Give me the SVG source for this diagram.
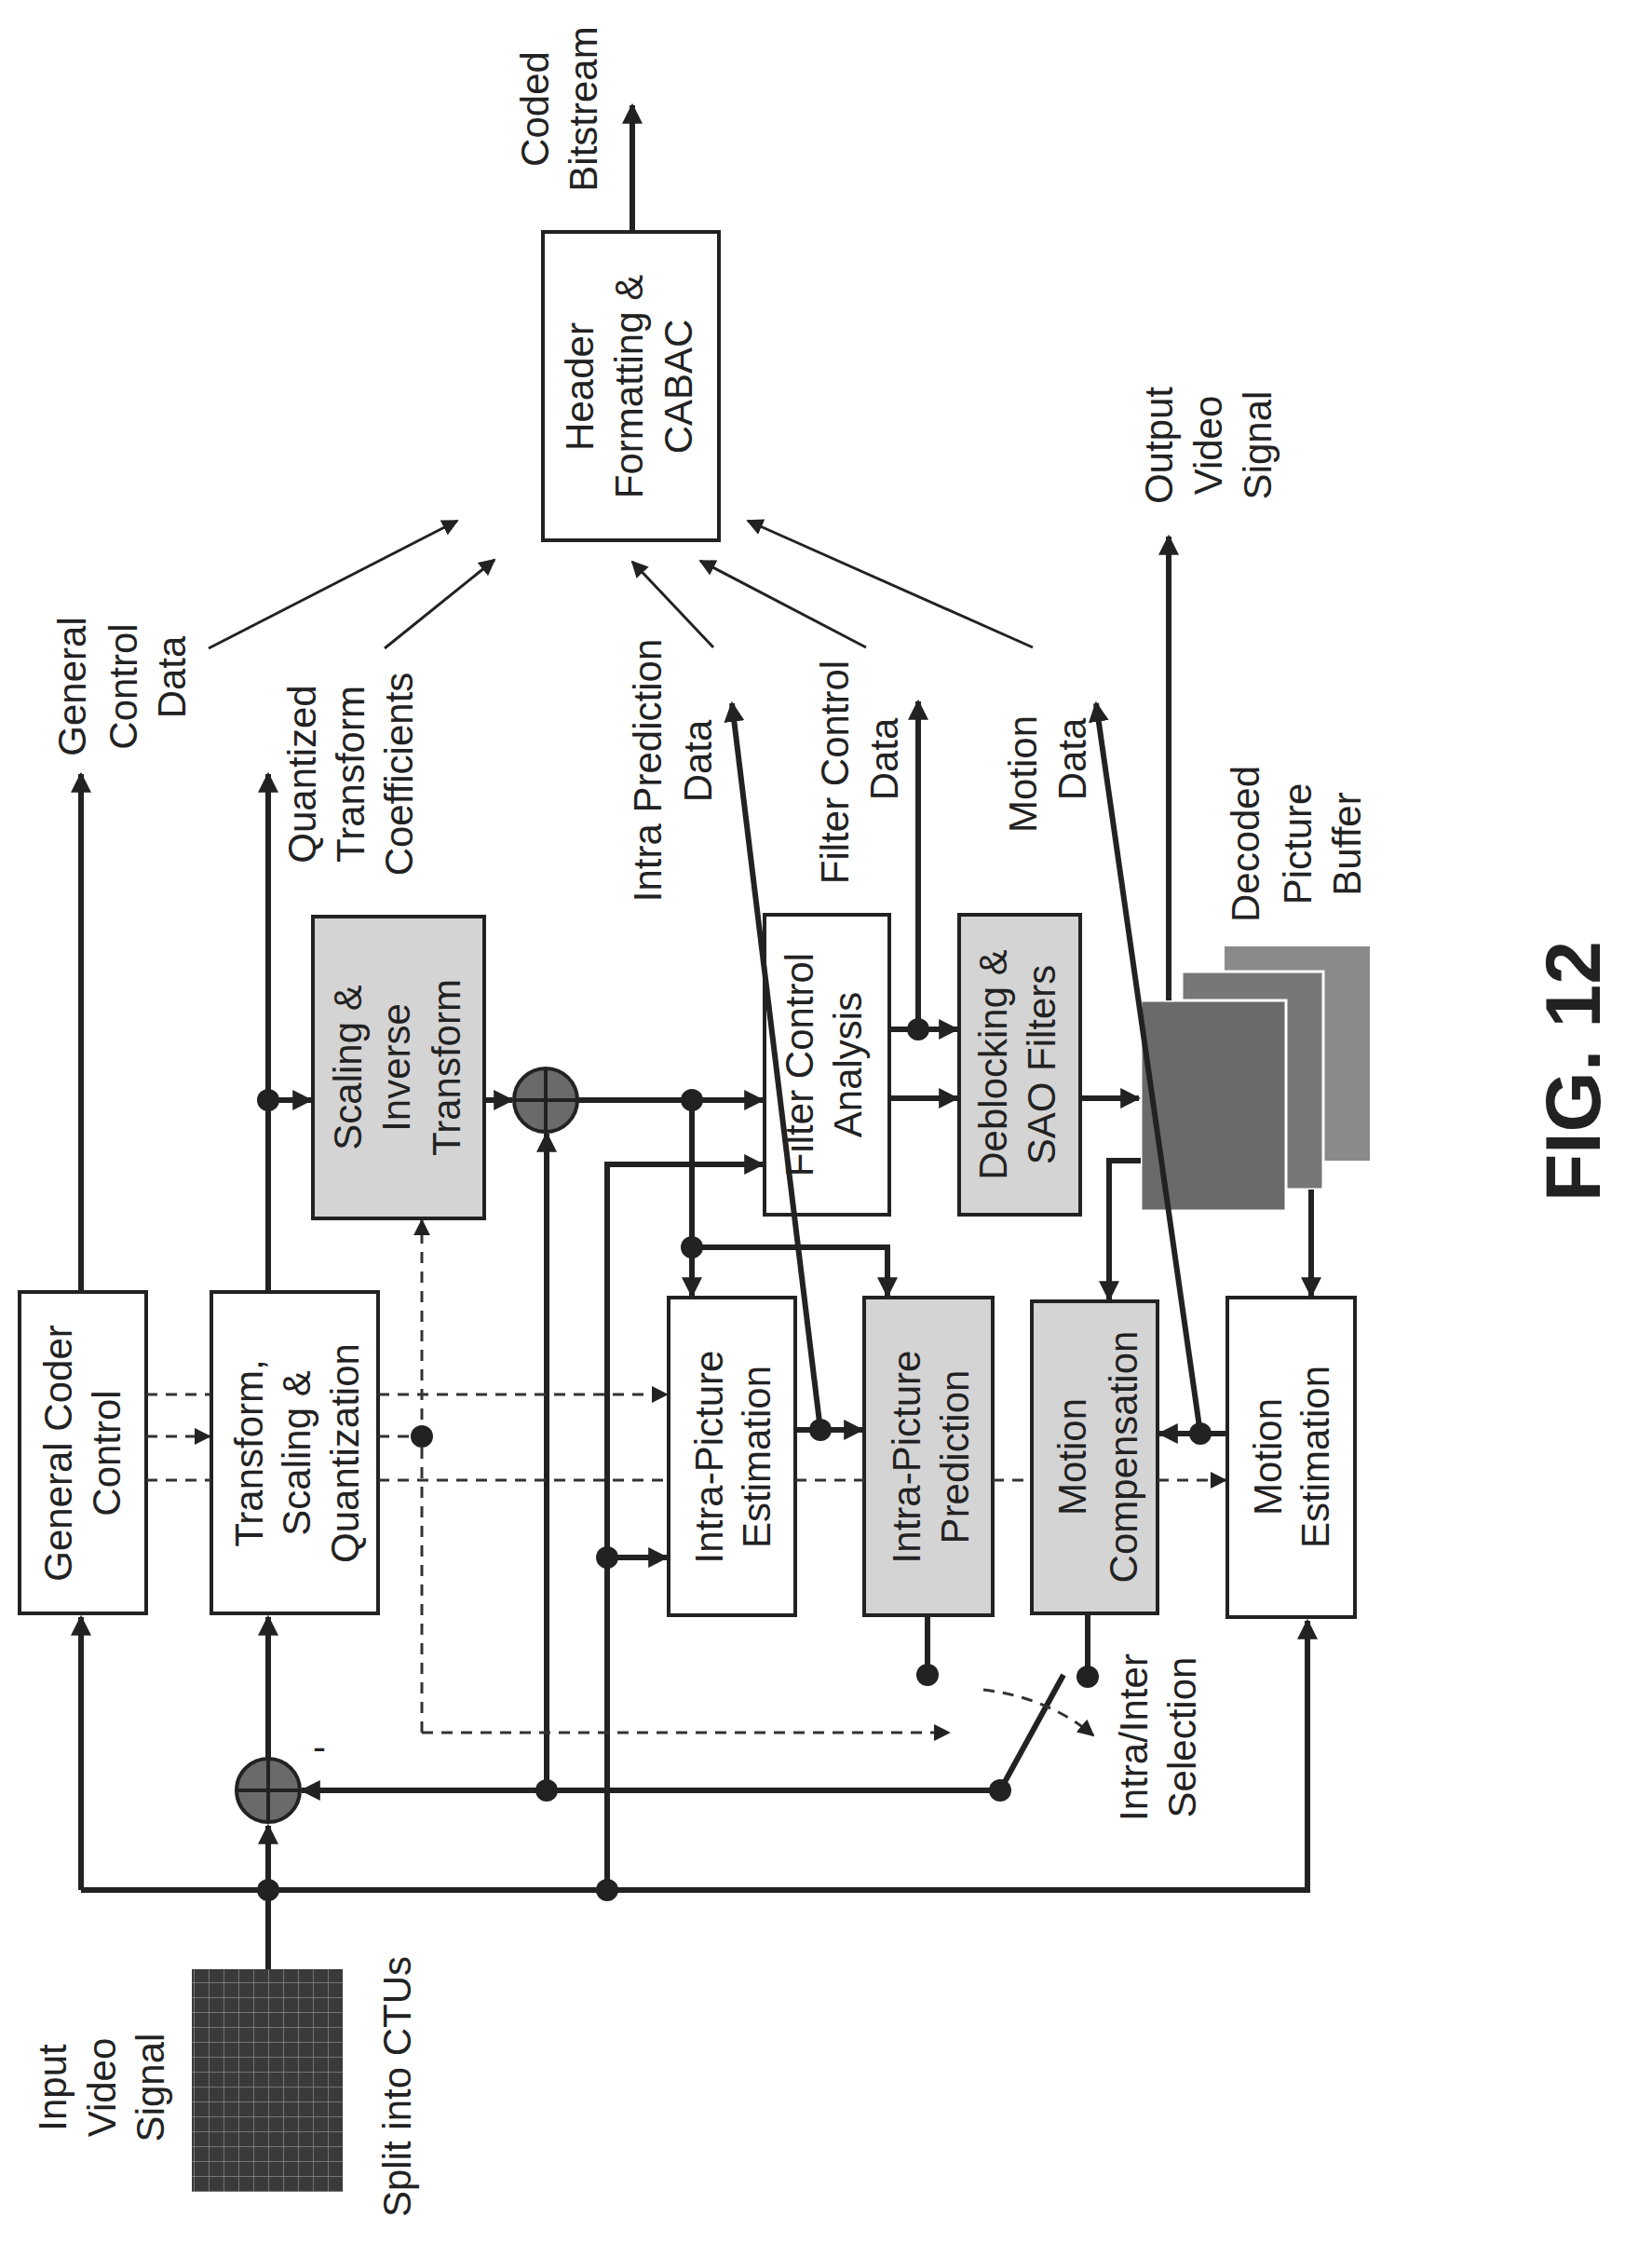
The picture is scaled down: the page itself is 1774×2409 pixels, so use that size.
<svg xmlns="http://www.w3.org/2000/svg" width="1774" height="2409" viewBox="0 0 1774 2409">
<style>
.box{fill:#fff;stroke:#222;stroke-width:4}
.gbox{fill:#d4d4d4;stroke:#222;stroke-width:4}
.t{font-family:"Liberation Sans",Arial,sans-serif;font-size:42px;fill:#222;text-anchor:middle}
.w{fill:none;stroke:#222;stroke-width:6}
.n{fill:none;stroke:#222;stroke-width:3}
.d{fill:none;stroke:#333;stroke-width:3;stroke-dasharray:12 9}
.dot{fill:#222}
</style>
<defs>
<marker id="a" viewBox="0 0 10 10" refX="9" refY="5" markerWidth="5" markerHeight="5" orient="auto" markerUnits="userSpaceOnUse"><path d="M0,0 L10,5 L0,10 z" fill="#222"/></marker>
<marker id="A" viewBox="0 0 10 10" refX="9" refY="5" markerWidth="22" markerHeight="22" orient="auto" markerUnits="userSpaceOnUse"><path d="M0,0 L10,5 L0,10 z" fill="#222"/></marker>
<marker id="B" viewBox="0 0 10 10" refX="9" refY="5" markerWidth="18" markerHeight="18" orient="auto" markerUnits="userSpaceOnUse"><path d="M0,0 L10,5 L0,10 z" fill="#222"/></marker>
<pattern id="grid" width="16" height="16" patternUnits="userSpaceOnUse"><rect width="16" height="16" fill="#3a3a3a"/><path d="M0,0 H16 M0,0 V16" stroke="#888" stroke-width="1.5"/></pattern>
</defs>
<rect width="1774" height="2409" fill="#fff"/>

<g id="input"><rect x="206" y="2114" width="162" height="239" fill="url(#grid)"/>
<text class="t" transform="translate(71,2241) rotate(-90)">Input</text>
<text class="t" transform="translate(124,2241) rotate(-90)">Video</text>
<text class="t" transform="translate(176,2241) rotate(-90)">Signal</text>
<text class="t" transform="translate(441,2240) rotate(-90)">Split into CTUs</text></g>

<g id="gcc"><rect class="box" x="21" y="1387" width="136" height="345"/>
<text class="t" transform="translate(77,1560) rotate(-90)">General Coder</text>
<text class="t" transform="translate(129,1560) rotate(-90)">Control</text></g>

<g id="tsq"><rect class="box" x="227" y="1387" width="179" height="345"/>
<text class="t" transform="translate(282,1560) rotate(-90)">Transform,</text>
<text class="t" transform="translate(333,1560) rotate(-90)">Scaling &amp;</text>
<text class="t" transform="translate(385,1560) rotate(-90)">Quantization</text></g>

<g id="sit"><rect class="gbox" x="336" y="984" width="184" height="324"/>
<text class="t" transform="translate(388,1146) rotate(-90)">Scaling &amp;</text>
<text class="t" transform="translate(440,1146) rotate(-90)">Inverse</text>
<text class="t" transform="translate(494,1146) rotate(-90)">Transform</text></g>

<g id="ipe"><rect class="box" x="718" y="1393" width="136" height="341"/>
<text class="t" transform="translate(776,1564) rotate(-90)">Intra-Picture</text>
<text class="t" transform="translate(827,1564) rotate(-90)">Estimation</text></g>

<g id="ipp"><rect class="gbox" x="928" y="1393" width="138" height="341"/>
<text class="t" transform="translate(988,1564) rotate(-90)">Intra-Picture</text>
<text class="t" transform="translate(1040,1564) rotate(-90)">Prediction</text></g>

<g id="mc"><rect class="gbox" x="1108" y="1397" width="135" height="335"/>
<text class="t" transform="translate(1166,1564) rotate(-90)">Motion</text>
<text class="t" transform="translate(1221,1564) rotate(-90)">Compensation</text></g>

<g id="me"><rect class="box" x="1318" y="1393" width="137" height="343"/>
<text class="t" transform="translate(1376,1564) rotate(-90)">Motion</text>
<text class="t" transform="translate(1427,1564) rotate(-90)">Estimation</text></g>

<g id="fca"><rect class="box" x="821" y="982" width="134" height="322"/>
<text class="t" transform="translate(873,1143) rotate(-90)">Filter Control</text>
<text class="t" transform="translate(925,1143) rotate(-90)">Analysis</text></g>

<g id="dbk"><rect class="gbox" x="1030" y="982" width="130" height="322"/>
<text class="t" transform="translate(1081,1143) rotate(-90)">Deblocking &amp;</text>
<text class="t" transform="translate(1133,1143) rotate(-90)">SAO Filters</text></g>

<g id="hdr"><rect class="box" x="583" y="249" width="189" height="331"/>
<text class="t" transform="translate(637,415) rotate(-90)">Header</text>
<text class="t" transform="translate(690,415) rotate(-90)">Formatting &amp;</text>
<text class="t" transform="translate(743,415) rotate(-90)">CABAC</text></g>

<g id="dpb"><rect x="1315" y="1016" width="156" height="230" fill="#8a8a8a"/>
<rect x="1269" y="1043" width="152" height="234" fill="#777" stroke="#fff" stroke-width="3"/>
<rect x="1225" y="1074" width="156" height="226" fill="#6a6a6a" stroke="#fff" stroke-width="3"/>
<text class="t" transform="translate(1352,906) rotate(-90)">Decoded</text>
<text class="t" transform="translate(1408,906) rotate(-90)">Picture</text>
<text class="t" transform="translate(1461,906) rotate(-90)">Buffer</text></g>

<g id="labels">
<text class="t" transform="translate(92,737) rotate(-90)">General</text>
<text class="t" transform="translate(147,737) rotate(-90)">Control</text>
<text class="t" transform="translate(199,727) rotate(-90)">Data</text>
<text class="t" transform="translate(339,831) rotate(-90)">Quantized</text>
<text class="t" transform="translate(391,831) rotate(-90)">Transform</text>
<text class="t" transform="translate(443,831) rotate(-90)">Coefficients</text>
<text class="t" transform="translate(710,827) rotate(-90)">Intra Prediction</text>
<text class="t" transform="translate(764,817) rotate(-90)">Data</text>
<text class="t" transform="translate(911,829) rotate(-90)">Filter Control</text>
<text class="t" transform="translate(964,815) rotate(-90)">Data</text>
<text class="t" transform="translate(1113,831) rotate(-90)">Motion</text>
<text class="t" transform="translate(1166,815) rotate(-90)">Data</text>
<text class="t" transform="translate(1259,478) rotate(-90)">Output</text>
<text class="t" transform="translate(1312,478) rotate(-90)">Video</text>
<text class="t" transform="translate(1365,478) rotate(-90)">Signal</text>
<text class="t" transform="translate(589,117) rotate(-90)">Coded</text>
<text class="t" transform="translate(641,117) rotate(-90)">Bitstream</text>
<text class="t" transform="translate(1232,1865) rotate(-90)">Intra/Inter</text>
<text class="t" transform="translate(1284,1865) rotate(-90)">Selection</text>
<text class="t" x="343" y="1890">-</text>
<text class="t" style="font-size:84px;font-weight:bold" transform="translate(1718,1150) rotate(-90)">FIG. 12</text>
</g>

<g id="sums">
<circle cx="288" cy="1922" r="34" fill="#6a6a6a" stroke="#222" stroke-width="4"/>
<path d="M254,1922 H322 M288,1888 V1956" stroke="#222" stroke-width="4"/>
<circle cx="586" cy="1181" r="34" fill="#6a6a6a" stroke="#222" stroke-width="4"/>
<path d="M552,1181 H620 M586,1147 V1215" stroke="#222" stroke-width="4"/>
</g>

<g id="connectors">
<path class="w" d="M288,2114 V1960" marker-end="url(#A)"/>
<path class="w" d="M87,2029 H1404 V1740" marker-end="url(#A)"/>
<path class="w" d="M87,2029 V1736" marker-end="url(#A)"/>
<path class="w" d="M652,2029 V1250 H819" marker-end="url(#A)"/>
<path class="w" d="M652,1672 H716" marker-end="url(#A)"/>
<path class="w" d="M288,1888 V1736" marker-end="url(#A)"/>
<path class="w" d="M1074,1922 H324" marker-end="url(#A)"/>
<path class="w" d="M587,1922 V1217" marker-end="url(#A)"/>
<path class="w" d="M1074,1922 L1142,1798"/>
<path class="w" d="M996,1734 V1798"/>
<path class="w" d="M1168,1732 V1800"/>
<path class="w" d="M87,1387 V831" marker-end="url(#A)"/>
<path class="w" d="M288,1387 V831" marker-end="url(#A)"/>
<path class="w" d="M288,1181 H334" marker-end="url(#A)"/>
<path class="w" d="M520,1181 H550" marker-end="url(#A)"/>
<path class="w" d="M620,1181 H819" marker-end="url(#A)"/>
<path class="w" d="M743,1181 V1391" marker-end="url(#A)"/>
<path class="w" d="M743,1339 H953 V1391" marker-end="url(#A)"/>
<path class="w" d="M955,1105 H1028" marker-end="url(#A)"/>
<path class="w" d="M986,1105 V753" marker-end="url(#A)"/>
<path class="w" d="M955,1179 H1028" marker-end="url(#A)"/>
<path class="w" d="M1160,1179 H1223" marker-end="url(#A)"/>
<path class="w" d="M1255,1074 V576" marker-end="url(#A)"/>
<path class="w" d="M1289,1539 L1177,755" marker-end="url(#A)"/>
<path class="w" d="M881,1535 L786,755" marker-end="url(#A)"/>
<path class="w" d="M854,1535 H926" marker-end="url(#A)"/>
<path class="w" d="M1318,1539 H1245" marker-end="url(#A)"/>
<path class="w" d="M1225,1246 H1191 V1395" marker-end="url(#A)"/>
<path class="w" d="M1408,1277 V1391" marker-end="url(#A)"/>
<path class="w" d="M679,249 V113" marker-end="url(#A)"/>
<path class="n" d="M224,696 L491,559" marker-end="url(#B)"/>
<path class="n" d="M413,696 L531,601" marker-end="url(#B)"/>
<path class="n" d="M766,695 L679,603" marker-end="url(#B)"/>
<path class="n" d="M930,695 L752,602" marker-end="url(#B)"/>
<path class="n" d="M1109,695 L803,559" marker-end="url(#B)"/>
<path class="d" d="M157,1497 H227 M406,1497 H716" marker-end="url(#B)"/>
<path class="d" d="M157,1542 H225" marker-end="url(#B)"/>
<path class="d" d="M406,1542 H453"/>
<path class="d" d="M157,1589 H227 M406,1589 H718 M854,1589 H928 M1066,1589 H1108 M1243,1589 H1316" marker-end="url(#B)"/>
<path class="d" d="M453,1860 V1310" marker-end="url(#B)"/>
<path class="d" d="M453,1860 H1019" marker-end="url(#B)"/>
<path class="d" d="M1056,1814 Q1125,1822 1174,1863" marker-end="url(#B)"/>
<circle class="dot" cx="288" cy="2029" r="12"/>
<circle class="dot" cx="652" cy="2029" r="12"/>
<circle class="dot" cx="652" cy="1672" r="12"/>
<circle class="dot" cx="587" cy="1922" r="12"/>
<circle class="dot" cx="1074" cy="1922" r="12"/>
<circle class="dot" cx="996" cy="1798" r="12"/>
<circle class="dot" cx="1168" cy="1800" r="12"/>
<circle class="dot" cx="288" cy="1181" r="12"/>
<circle class="dot" cx="743" cy="1181" r="12"/>
<circle class="dot" cx="743" cy="1339" r="12"/>
<circle class="dot" cx="986" cy="1105" r="12"/>
<circle class="dot" cx="881" cy="1535" r="12"/>
<circle class="dot" cx="1289" cy="1539" r="12"/>
<circle class="dot" cx="453" cy="1542" r="12"/>
</g>
</svg>
